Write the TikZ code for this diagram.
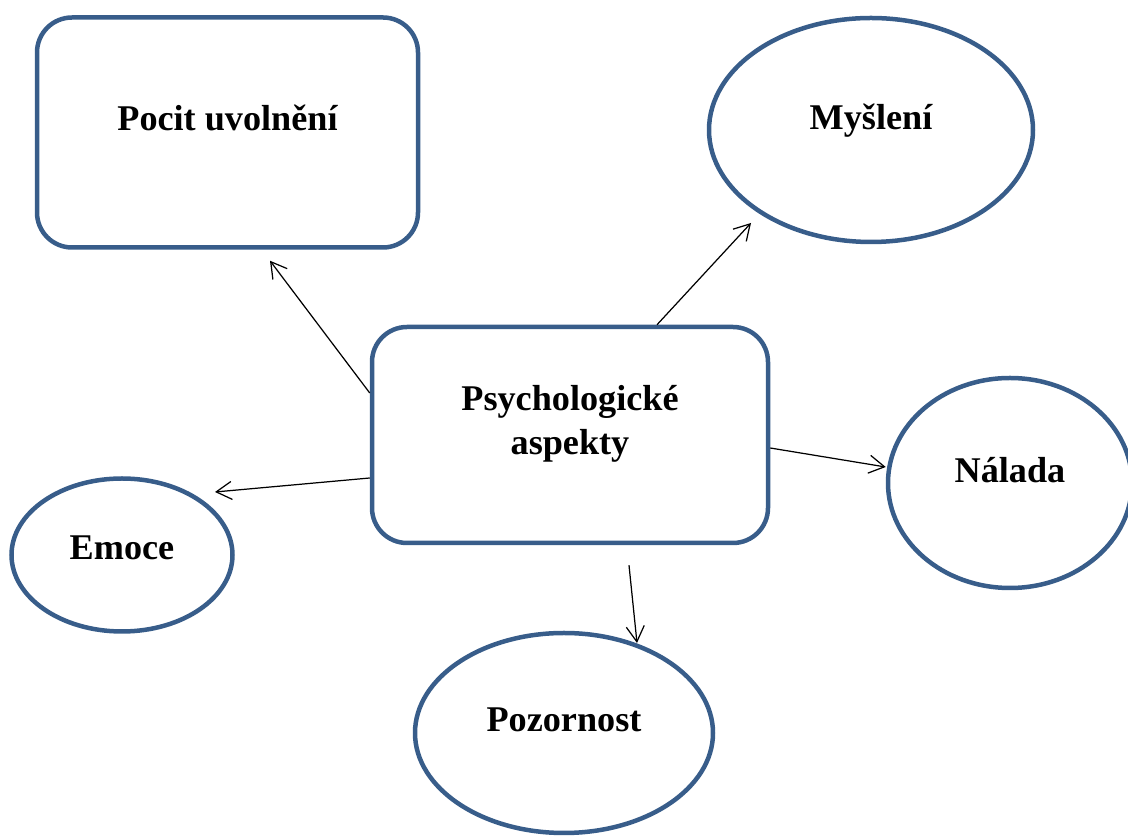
\documentclass[tikz,border=0pt]{standalone}
\usepackage{fontspec}
\setmainfont{Liberation Serif}
\usetikzlibrary{shapes.geometric,arrows.meta}
\definecolor{outline}{RGB}{56,93,138}
\tikzset{
  box/.style={draw=outline,line width=0.09cm,rounded corners=0.7cm,inner sep=0pt},
  oval/.style={draw=outline,line width=0.09cm,ellipse,inner sep=0pt},
  txt/.style={font=\fontsize{20.6}{25}\selectfont\bfseries,align=center,inner sep=0pt},
  arr/.style={black,line width=0.7pt,-{Straight Barb[length=0.31cm,width=0.36cm]}}
}

\begin{document}
\begin{tikzpicture}
  \useasboundingbox (0,0) rectangle (22.56,16.74);
  \node at (4.55,14.09)[box,minimum width=7.62cm,minimum height=4.6cm,
        label={[txt,yshift=0.29cm]center:Pocit uvolnění}] (pocit) {};
  \node at (17.42,14.14)[oval,minimum width=6.48cm,minimum height=4.48cm,
        label={[txt,yshift=0.18cm]center:Myšlení}] (mysleni) {};
  \node at (11.4,8.04)[box,minimum width=7.92cm,minimum height=4.32cm,
        label={[txt,yshift=0.22cm]center:Psychologické\\aspekty}] (psy) {};
  \node at (20.2,7.08)[oval,minimum width=4.88cm,minimum height=4.2cm,
        label={[txt,yshift=0.26cm]center:Nálada}] (nalada) {};
  \node at (2.44,5.64)[oval,minimum width=4.42cm,minimum height=3.06cm,
        label={[txt,yshift=0.14cm]center:Emoce}] (emoce) {};
  \node at (11.28,2.08)[oval,minimum width=5.96cm,minimum height=4cm,
        label={[txt,yshift=0.26cm]center:Pozornost}] (pozor) {};

  \draw [arr] ([yshift=0.84cm]psy.west) -- ([shift={(0.85cm,-0.22cm)}]pocit.south);
  \draw [arr] ([yshift=-0.86cm]psy.west) -- ([shift={(1.86cm,1.26cm)}]emoce.center);
  \draw [arr] ([xshift=1.74cm]psy.north) -- ([shift={(-2.4cm,-1.86cm)}]mysleni.center);
  \draw [arr] ([yshift=-0.26cm]psy.east) -- ([yshift=0.32cm]nalada.west);
  \draw [arr] ([shift={(1.18cm,-0.4cm)}]psy.south) -- ([shift={(1.46cm,1.8cm)}]pozor.center);
\end{tikzpicture}
\end{document}
